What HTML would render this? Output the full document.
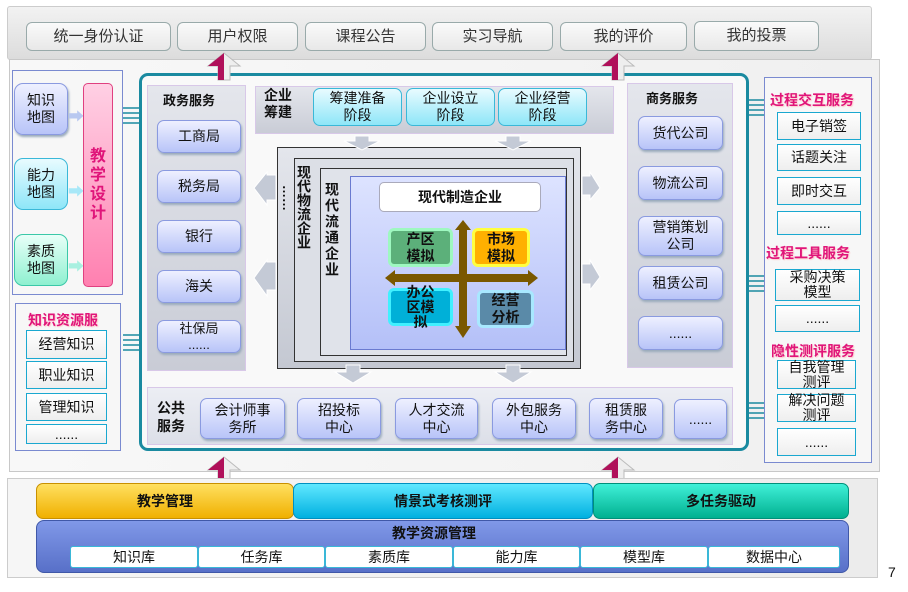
<!DOCTYPE html>
<html><head><meta charset="utf-8"><style>
*{box-sizing:border-box;margin:0;padding:0}
body{width:908px;height:592px;background:#fff;position:relative;overflow:hidden;font-family:"Liberation Sans","Noto Sans CJK SC",sans-serif;color:#111}
.a{position:absolute}
.c{display:flex;align-items:center;justify-content:center;text-align:center;line-height:1.2}
.tb{background:linear-gradient(#fafafa,#e8e8e8);border:1px solid #9aa;border-radius:6px;font-size:15px;color:#333}
.bb{background:linear-gradient(#eef0ff,#b8c4f8);border:1px solid #8a9ae0;border-radius:7px;font-size:14px;box-shadow:1px 2px 2px #9ab}
.cy{background:linear-gradient(#e8fbff,#8ee6f8);border:1px solid #3ab8d8;border-radius:7px;font-size:14px}
.pan{background:linear-gradient(#e4e6ec,#c9ccd6);border:1px solid #d8c8e8}
.wb{background:linear-gradient(#fff,#eee);border:1px solid #1aa8d0;font-size:14px}
.rt{color:#e0157a;font-weight:bold;font-size:14px;text-shadow:1px 1px 1px #fcc}
.b{font-weight:bold}
.vt{writing-mode:vertical-rl;font-weight:bold;font-size:14px;letter-spacing:0}
</style></head><body>
<!-- top bar -->
<div class="a" style="left:7px;top:6px;width:865px;height:54px;background:linear-gradient(#f2f2f2,#dcdcdc);border:1px solid #ccc;border-radius:3px"></div>
<div class="a c tb" style="left:26px;top:22px;width:145px;height:29px">统一身份认证</div>
<div class="a c tb" style="left:177px;top:22px;width:121px;height:29px">用户权限</div>
<div class="a c tb" style="left:305px;top:22px;width:121px;height:29px">课程公告</div>
<div class="a c tb" style="left:432px;top:22px;width:121px;height:29px">实习导航</div>
<div class="a c tb" style="left:560px;top:22px;width:127px;height:29px">我的评价</div>
<div class="a c tb" style="left:694px;top:21px;width:125px;height:30px">我的投票</div>
<!-- main area -->
<div class="a" style="left:9px;top:59px;width:871px;height:413px;background:linear-gradient(90deg,#f8f8f8,#f0f0f0);border:1px solid #c8c8c8"></div>
<!-- left -->
<div class="a" style="left:12px;top:70px;width:111px;height:225px;border:1px solid #7a8ad0;background:#f7f7f7"></div>
<div class="a c bb" style="left:14px;top:83px;width:54px;height:52px;border-radius:9px">知识<br>地图</div>
<div class="a c" style="left:14px;top:158px;width:54px;height:52px;border-radius:9px;background:linear-gradient(#e8fbff,#8ee6f8);border:1px solid #3ab8d8;font-size:14px">能力<br>地图</div>
<div class="a c" style="left:14px;top:234px;width:54px;height:52px;border-radius:9px;background:linear-gradient(#e8fff8,#8ef0d0);border:1px solid #3ac8a8;font-size:14px">素质<br>地图</div>
<div class="a" style="left:68px;top:103px;color:#b8c8f0;font-size:16px">➡</div>
<div class="a" style="left:68px;top:178px;color:#a8e8f8;font-size:16px">➡</div>
<div class="a" style="left:68px;top:253px;color:#a8f0e0;font-size:16px">➡</div>
<div class="a c" style="left:83px;top:83px;width:30px;height:204px;background:linear-gradient(#ffd0e4,#ff80b0);border:1px solid #e04080;border-radius:5px;color:#e0157a;font-weight:bold;font-size:16px">教<br>学<br>设<br>计</div>
<div class="a" style="left:15px;top:303px;width:106px;height:148px;border:1px solid #7a8ad0;background:#f7f7f7"></div>
<div class="a rt" style="left:28px;top:310px">知识资源服</div>
<div class="a c wb" style="left:26px;top:330px;width:81px;height:29px">经营知识</div>
<div class="a c wb" style="left:26px;top:361px;width:81px;height:28px">职业知识</div>
<div class="a c wb" style="left:26px;top:393px;width:81px;height:28px">管理知识</div>
<div class="a c wb" style="left:26px;top:424px;width:81px;height:20px">......</div>
<!-- combs -->
<svg class="a" style="left:0;top:0" width="908" height="592">
<g stroke="#1a8aa0" stroke-width="1.5">
<line x1="123" y1="108" x2="139" y2="108"/><line x1="123" y1="113" x2="139" y2="113"/><line x1="123" y1="118" x2="139" y2="118"/><line x1="123" y1="123" x2="139" y2="123"/>
<line x1="123" y1="335" x2="139" y2="335"/><line x1="123" y1="340" x2="139" y2="340"/><line x1="123" y1="345" x2="139" y2="345"/><line x1="123" y1="350" x2="139" y2="350"/>
<line x1="748" y1="100" x2="764" y2="100"/><line x1="748" y1="105" x2="764" y2="105"/><line x1="748" y1="110" x2="764" y2="110"/><line x1="748" y1="115" x2="764" y2="115"/>
<line x1="748" y1="276" x2="764" y2="276"/><line x1="748" y1="281" x2="764" y2="281"/><line x1="748" y1="286" x2="764" y2="286"/><line x1="748" y1="291" x2="764" y2="291"/>
<line x1="748" y1="403" x2="764" y2="403"/><line x1="748" y1="408" x2="764" y2="408"/><line x1="748" y1="413" x2="764" y2="413"/><line x1="748" y1="418" x2="764" y2="418"/>
</g></svg>
<!-- teal frame -->
<div class="a" style="left:139px;top:73px;width:610px;height:378px;border:3px solid #1a8aa0;border-radius:9px;background:#f9f9f9"></div>
<!-- 政务服务 -->
<div class="a pan" style="left:147px;top:85px;width:99px;height:286px"></div>
<div class="a b" style="left:163px;top:90px;font-size:13px">政务服务</div>
<div class="a c bb" style="left:157px;top:120px;width:84px;height:33px">工商局</div>
<div class="a c bb" style="left:157px;top:170px;width:84px;height:33px">税务局</div>
<div class="a c bb" style="left:157px;top:220px;width:84px;height:33px">银行</div>
<div class="a c bb" style="left:157px;top:270px;width:84px;height:33px">海关</div>
<div class="a c bb" style="left:157px;top:320px;width:84px;height:33px;font-size:13px">社保局<br>......</div>
<!-- 企业筹建 -->
<div class="a pan" style="left:255px;top:86px;width:359px;height:48px"></div>
<div class="a b" style="left:264px;top:87px;font-size:14px;line-height:17px">企业<br>筹建</div>
<div class="a c cy" style="left:313px;top:88px;width:89px;height:38px">筹建准备<br>阶段</div>
<div class="a c cy" style="left:406px;top:88px;width:89px;height:38px">企业设立<br>阶段</div>
<div class="a c cy" style="left:498px;top:88px;width:89px;height:38px">企业经营<br>阶段</div>
<!-- 商务服务 -->
<div class="a pan" style="left:627px;top:83px;width:106px;height:285px"></div>
<div class="a b" style="left:646px;top:88px;font-size:13px">商务服务</div>
<div class="a c bb" style="left:638px;top:116px;width:85px;height:34px">货代公司</div>
<div class="a c bb" style="left:638px;top:166px;width:85px;height:34px">物流公司</div>
<div class="a c bb" style="left:638px;top:216px;width:85px;height:40px">营销策划<br>公司</div>
<div class="a c bb" style="left:638px;top:266px;width:85px;height:34px">租赁公司</div>
<div class="a c bb" style="left:638px;top:316px;width:85px;height:34px">......</div>
<!-- center nest -->
<div class="a" style="left:277px;top:147px;width:304px;height:222px;border:1px solid #333;background:linear-gradient(#e4e6ec,#c4c8d2)"></div>
<div class="a" style="left:294px;top:158px;width:280px;height:204px;border:1px solid #333;background:#dcdfe6"></div>
<div class="a" style="left:320px;top:168px;width:247px;height:188px;border:1px solid #333;background:#e0e3ea"></div>
<div class="a" style="left:350px;top:176px;width:216px;height:174px;border:1px solid #6a7ad0;background:linear-gradient(#dde3ff,#b4c0f8)"></div>
<div class="a vt" style="left:296px;top:165px;line-height:16px">现代物流企业</div>
<div class="a vt" style="left:324px;top:182px;line-height:16px;letter-spacing:2px">现代流通企业</div>
<div class="a b" style="left:280px;top:185px;font-size:13px;writing-mode:vertical-rl">……</div>
<div class="a c b" style="left:379px;top:182px;width:162px;height:30px;background:#fff;border:1px solid #aab;border-radius:5px;font-size:14px">现代制造企业</div>
<svg class="a" style="left:0;top:0" width="908" height="592">
<g fill="#7a5800"><rect x="459" y="228" width="8" height="100"/><polygon points="455,230 463,220 471,230"/><polygon points="455,326 463,338 471,326"/>
<rect x="393" y="274" width="136" height="8"/><polygon points="395,270 385,278 395,286"/><polygon points="528,270 538,278 528,286"/></g></svg>
<div class="a c b" style="left:388px;top:228px;width:65px;height:39px;background:#5cb07a;border:3px solid #9ef8c0;border-radius:6px;font-size:14px">产区<br>模拟</div>
<div class="a c b" style="left:472px;top:228px;width:58px;height:39px;background:#ffb000;border:3px solid #ffff40;border-radius:6px;font-size:14px">市场<br>模拟</div>
<div class="a c b" style="left:388px;top:288px;width:65px;height:38px;background:#00b0d8;border:3px solid #40f0ff;border-radius:6px;font-size:14px;line-height:15px">办公<br>区模<br>拟</div>
<div class="a c b" style="left:477px;top:290px;width:57px;height:38px;background:#5a8aa8;border:3px solid #a8e8ff;border-radius:6px;font-size:14px">经营<br>分析</div>
<!-- grey arrows -->
<svg class="a" style="left:0;top:0" width="908" height="592">
<g fill="#c4cad6" stroke="#fff" stroke-width="1">
<polygon points="355,136 369,136 369,141 380,141 362,150 344,141 355,141"/>
<polygon points="506,136 520,136 520,141 531,141 513,150 495,141 506,141"/>
<polygon points="346,365 360,365 360,372 371,372 353,383 335,372 346,372"/>
<polygon points="506,365 520,365 520,372 531,372 513,383 495,372 506,372"/>
<polygon points="276,175 276,200 267,200 267,205 254,188 267,172 267,175"/>
<polygon points="276,262 276,290 267,290 267,296 254,278 267,260 267,262"/>
<polygon points="582,176 582,195 590,195 590,200 600,188 590,172 590,176"/>
<polygon points="582,264 582,284 590,284 590,290 600,277 590,260 590,264"/>
</g>
<g>
<polygon points="218,80 218,66 208,66 224,53 240,66 230,66 230,80" fill="#eee" stroke="#bbb"/>
<polygon points="208,66 224,53 224,80 218,80 218,66" fill="#b0105a"/>
<polygon points="612,80 612,66 602,66 618,53 634,66 624,66 624,80" fill="#eee" stroke="#bbb"/>
<polygon points="602,66 618,53 618,80 612,80 612,66" fill="#b0105a"/>
<polygon points="218,486 218,470 208,470 224,457 240,470 230,470 230,486" fill="#eee" stroke="#bbb"/>
<polygon points="208,470 224,457 224,486 218,486 218,470" fill="#b0105a"/>
<polygon points="612,486 612,470 602,470 618,457 634,470 624,470 624,486" fill="#eee" stroke="#bbb"/>
<polygon points="602,470 618,457 618,486 612,486 612,470" fill="#b0105a"/>
</g></svg>
<!-- 公共服务 -->
<div class="a pan" style="left:147px;top:387px;width:586px;height:58px;background:linear-gradient(#eceef4,#dcdfe8)"></div>
<div class="a b" style="left:157px;top:399px;font-size:14px;line-height:18px">公共<br>服务</div>
<div class="a c bb" style="left:200px;top:398px;width:85px;height:41px">会计师事<br>务所</div>
<div class="a c bb" style="left:297px;top:398px;width:84px;height:41px">招投标<br>中心</div>
<div class="a c bb" style="left:395px;top:398px;width:83px;height:41px">人才交流<br>中心</div>
<div class="a c bb" style="left:492px;top:398px;width:84px;height:41px">外包服务<br>中心</div>
<div class="a c bb" style="left:589px;top:398px;width:74px;height:41px">租赁服<br>务中心</div>
<div class="a c bb" style="left:674px;top:399px;width:53px;height:40px">......</div>
<!-- right -->
<div class="a" style="left:764px;top:77px;width:108px;height:386px;border:1px solid #7a8ad0;background:#f7f7f7"></div>
<div class="a rt" style="left:770px;top:90px">过程交互服务</div>
<div class="a c wb" style="left:777px;top:112px;width:84px;height:28px">电子销签</div>
<div class="a c wb" style="left:777px;top:144px;width:84px;height:27px">话题关注</div>
<div class="a c wb" style="left:777px;top:177px;width:84px;height:28px">即时交互</div>
<div class="a c wb" style="left:777px;top:211px;width:84px;height:24px">......</div>
<div class="a rt" style="left:766px;top:243px">过程工具服务</div>
<div class="a c wb" style="left:775px;top:269px;width:85px;height:32px;line-height:15px">采购决策<br>模型</div>
<div class="a c wb" style="left:775px;top:305px;width:85px;height:27px">......</div>
<div class="a rt" style="left:771px;top:341px">隐性测评服务</div>
<div class="a c wb" style="left:777px;top:360px;width:79px;height:29px;line-height:15px">自我管理<br>测评</div>
<div class="a c wb" style="left:777px;top:394px;width:79px;height:28px;line-height:15px">解决问题<br>测评</div>
<div class="a c wb" style="left:777px;top:428px;width:79px;height:28px">......</div>
<!-- bottom -->
<div class="a" style="left:7px;top:478px;width:871px;height:100px;background:linear-gradient(90deg,#f6f6f6,#ececec);border:1px solid #ccc"></div>
<div class="a c b" style="left:36px;top:483px;width:258px;height:36px;background:linear-gradient(#ffe060,#f0b000);border:1px solid #c89000;border-radius:7px;font-size:14px">教学管理</div>
<div class="a c b" style="left:293px;top:483px;width:300px;height:36px;background:linear-gradient(#60e8ff,#00b0e0);border:1px solid #0090c0;border-radius:7px;font-size:14px">情景式考核测评</div>
<div class="a c b" style="left:593px;top:483px;width:256px;height:36px;background:linear-gradient(#40f0d8,#00b090);border:1px solid #00907a;border-radius:7px;font-size:14px">多任务驱动</div>
<div class="a" style="left:36px;top:520px;width:813px;height:53px;background:linear-gradient(#8098e8,#5870c8);border:1px solid #4058a8;border-radius:8px"></div>
<div class="a b" style="left:392px;top:523px;font-size:14px">教学资源管理</div>
<div class="a" style="left:70px;top:546px;width:770px;height:22px;display:flex;font-size:14px">
<div class="c" style="flex:128;background:#fff;border:1px solid #3ab8d8;border-radius:3px">知识库</div>
<div class="c" style="flex:127;background:#fff;border:1px solid #3ab8d8;border-radius:3px">任务库</div>
<div class="c" style="flex:128;background:#fff;border:1px solid #3ab8d8;border-radius:3px">素质库</div>
<div class="c" style="flex:127;background:#fff;border:1px solid #3ab8d8;border-radius:3px">能力库</div>
<div class="c" style="flex:128;background:#fff;border:1px solid #3ab8d8;border-radius:3px">模型库</div>
<div class="c" style="flex:132;background:#fff;border:1px solid #3ab8d8;border-radius:3px">数据中心</div>
</div>
<div class="a" style="left:888px;top:564px;font-size:14px">7</div>
</body></html>
